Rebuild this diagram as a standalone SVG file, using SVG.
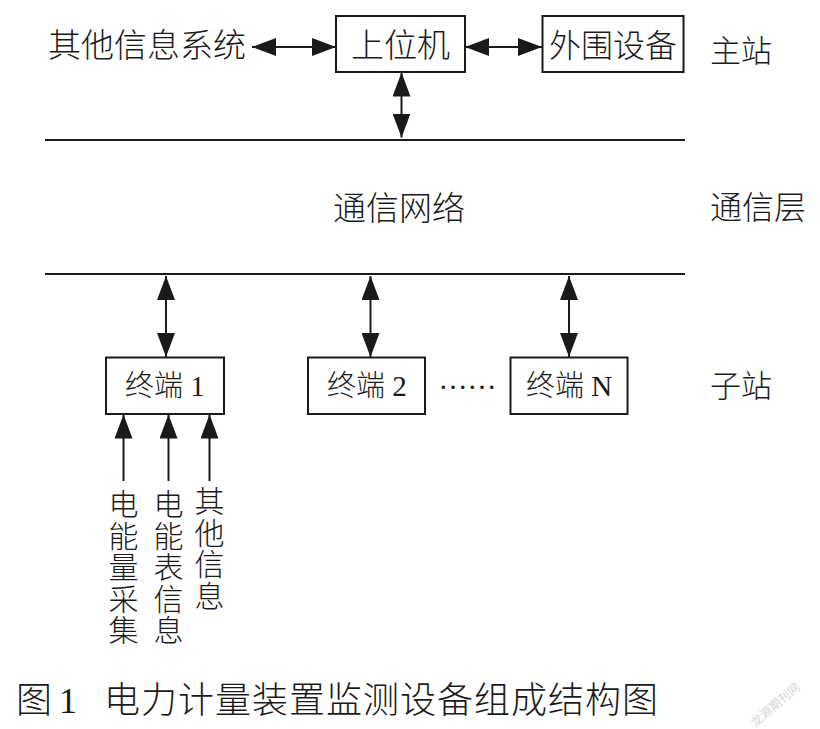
<svg xmlns="http://www.w3.org/2000/svg" width="820" height="729" viewBox="0 0 820 729">
<defs>
<style>
.t{font-family:"Liberation Serif","Noto Sans CJK SC",serif;fill:#1a1a1a;font-weight:300}
.v{font-family:"Noto Sans CJK SC",sans-serif;fill:#1a1a1a;font-weight:300;writing-mode:vertical-rl;font-size:30px;letter-spacing:1.5px}
.box{fill:#fff;stroke:#1a1a1a;stroke-width:2}
.ln{stroke:#1a1a1a;stroke-width:2.2;fill:none}
.ar{stroke:#1a1a1a;stroke-width:2;fill:none}
</style>
<marker id="ah" markerUnits="userSpaceOnUse" markerWidth="24" markerHeight="18" refX="24" refY="9" orient="auto-start-reverse" viewBox="0 0 24 18">
<path d="M0,0 L24,9 L0,18 z" fill="#1a1a1a"/>
</marker>
</defs>
<rect width="820" height="729" fill="#fff"/>

<g id="network-lines">
<line class="ln" x1="45" y1="140" x2="685" y2="140"/>
<line class="ln" x1="45" y1="274" x2="685" y2="274"/>
</g>

<g id="connectors">
<line class="ar" x1="252" y1="47" x2="336" y2="47" marker-start="url(#ah)" marker-end="url(#ah)"/>
<line class="ar" x1="465" y1="47" x2="542" y2="47" marker-start="url(#ah)" marker-end="url(#ah)"/>
<line class="ar" x1="401.5" y1="72.5" x2="401.5" y2="137.5" marker-start="url(#ah)" marker-end="url(#ah)"/>
<line class="ar" x1="166" y1="276" x2="166" y2="357" marker-start="url(#ah)" marker-end="url(#ah)"/>
<line class="ar" x1="370.5" y1="276" x2="370.5" y2="357" marker-start="url(#ah)" marker-end="url(#ah)"/>
<line class="ar" x1="569" y1="276" x2="569" y2="357" marker-start="url(#ah)" marker-end="url(#ah)"/>
<line class="ar" x1="123.5" y1="481" x2="123.5" y2="414.5" marker-end="url(#ah)"/>
<line class="ar" x1="168.5" y1="481" x2="168.5" y2="414.5" marker-end="url(#ah)"/>
<line class="ar" x1="209.5" y1="481" x2="209.5" y2="414.5" marker-end="url(#ah)"/>
</g>

<g id="other-systems">
<text class="t" x="48" y="57" font-size="33">其他信息系统</text>
</g>

<g id="host">
<rect class="box" x="336" y="16" width="129" height="56"/>
<text class="t" x="400.5" y="57" font-size="33" text-anchor="middle">上位机</text>
</g>

<g id="peripherals">
<rect class="box" x="542.5" y="16" width="141" height="56"/>
<text class="t" x="613" y="57" font-size="32" text-anchor="middle">外围设备</text>
</g>

<g id="layer-labels">
<text class="t" x="710" y="62" font-size="31">主站</text>
<text class="t" x="710" y="219" font-size="32">通信层</text>
<text class="t" x="710" y="397" font-size="31">子站</text>
<text class="t" x="399" y="220" font-size="33" text-anchor="middle">通信网络</text>
</g>

<g id="terminal-1">
<rect class="box" x="106" y="357.5" width="118" height="56.5"/>
<text class="t" x="165" y="396" font-size="29" text-anchor="middle">终端 1</text>
</g>

<g id="terminal-2">
<rect class="box" x="308" y="357.5" width="117" height="56.5"/>
<text class="t" x="367" y="396" font-size="29" text-anchor="middle">终端 2</text>
</g>

<g id="dots">
<text class="t" x="467.5" y="389" font-size="29" text-anchor="middle">……</text>
</g>

<g id="terminal-n">
<rect class="box" x="510.5" y="357.5" width="117" height="56.5"/>
<text class="t" x="569" y="396" font-size="29" text-anchor="middle">终端 N</text>
</g>

<g id="inputs">
<text class="v" x="123.5" y="489">电能量采集</text>
<text class="v" x="168.5" y="489">电能表信息</text>
<text class="v" x="209.5" y="486">其他信息</text>
</g>

<g id="caption">
<text class="t" x="16" y="713" font-size="36">图</text>
<text class="t" x="59" y="713" font-size="36">1</text>
<text class="t" x="104" y="713" font-size="36" letter-spacing="1">电力计量装置监测设备组成结构图</text>
</g>

<g id="watermark">
<text x="778" y="708" font-size="12" fill="#d6d6d6" font-family="Noto Sans CJK SC, sans-serif" text-anchor="middle" transform="rotate(-40 778 708)">龙源期刊网</text>
</g>
</svg>
